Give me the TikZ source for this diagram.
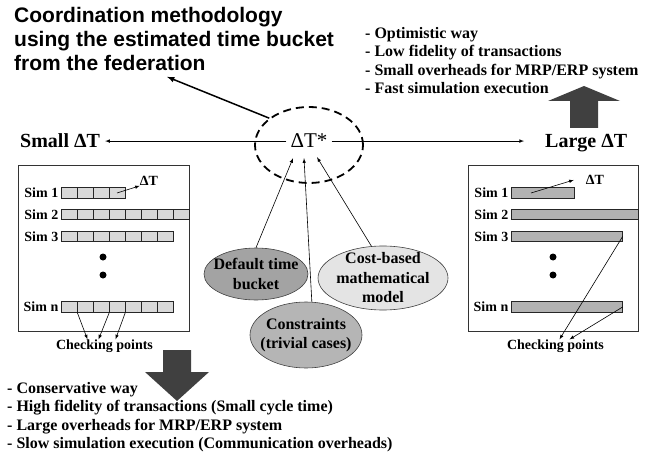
\documentclass[tikz,border=0pt]{standalone}
\usepackage{fontspec}
\setmainfont{Liberation Serif}
\newfontfamily\titlesans{Liberation Sans}
\usetikzlibrary{shapes.geometric}
\definecolor{cellgray}{HTML}{D9D9D9}
\definecolor{bargray}{HTML}{B2B2B2}
\definecolor{blockgray}{HTML}{404040}
\definecolor{dfltgray}{HTML}{A3A3A3}
\definecolor{consgray}{HTML}{B5B5B5}
\definecolor{costgray}{HTML}{E4E4E4}

\begin{document}
\begin{tikzpicture}[x=1pt, y=-1pt,
    every node/.style={inner sep=0pt},
    simlbl/.style={font=\fontsize{14}{16}\selectfont\bfseries},
    side/.style={font=\fontsize{20}{24}\selectfont\bfseries, anchor=base west},
    props/.style={font=\fontsize{16}{18.5}\selectfont\bfseries, align=left, anchor=north west},
    src/.style={draw=black!75, ellipse, line width=0.6pt},
    srctext/.style={font=\fontsize{16}{19.5}\selectfont\bfseries, align=center},
    simbox/.style={draw=black!80, line width=0.8pt, anchor=north west},
    cell/.style={draw=black!85, fill=cellgray, line width=0.6pt, minimum width=16pt, minimum height=10.5pt},
    bar/.style={draw=black!85, fill=bargray, line width=0.6pt, minimum height=10.5pt, anchor=west},
    thinarr/.style={-latex, line width=0.6pt}]
    \useasboundingbox (0,0) rectangle (652,454);

    \node[anchor=north west, align=left, font=\titlesans\fontsize{21}{24}\selectfont\bfseries] (title) at (14,7) {Coordination methodology\\using the estimated time bucket\\from the federation};
    \node[props] (largeprops) at (365,27) {- Optimistic way\\- Low fidelity of transactions\\- Small overheads for MRP/ERP system\\- Fast simulation execution};
    \node[props] (smallprops) at (7,382) {- Conservative way\\- High fidelity of transactions (Small cycle time)\\- Large overheads for MRP/ERP system\\- Slow simulation execution (Communication overheads)};

    \node[ellipse, draw, line width=1.8pt, dash pattern=on 8pt off 5pt, minimum width=108pt, minimum height=76pt] (est) at (309,145) {};
    \node[anchor=base, inner xsep=4pt, font=\fontsize{21}{24}\selectfont] (dts) at (309,148) {ΔT*};
    \node[side] (small) at (20,148) {Small ΔT};
    \node[side] (large) at (545,148) {Large ΔT};
    \draw[thinarr, shorten >=5pt] (dts.west) -- (dts.west -| small.east);
    \draw[thinarr, shorten >=21pt] (dts.east) -- (dts.east -| large.west);
    \draw[-latex, line width=1.5pt] (est.146) -- ([xshift=153pt, yshift=-6pt]title.south west);

    \node[src, fill=dfltgray, minimum width=104pt, minimum height=52pt, label={[srctext]center:Default time\\bucket}] (dflt) at (256,274) {};
    \node[src, fill=costgray, minimum width=130pt, minimum height=64pt, label={[srctext]center:Cost-based\\mathematical\\model}] (cost) at (383,278) {};
    \node[src, fill=consgray, minimum width=112pt, minimum height=66pt, label={[srctext]center:Constraints\\(trivial cases)}] (cons) at (306,335) {};
    \draw[thinarr] (dflt.north) -- ([xshift=-16pt, yshift=-10pt]dts.south);
    \draw[thinarr] (cons.80) -- ([xshift=-5pt, yshift=-10pt]dts.south);
    \draw[thinarr] (cost.110) -- ([xshift=8pt, yshift=-9pt]dts.south);

    \node[simbox, minimum width=171pt, minimum height=166pt] (lbox) at (18,165) {};
    \foreach \r/\n/\y in {1/4/193, 2/8/214.5, 3/7/236.5, n/7/307} {
        \node[simlbl, anchor=east] (ls\r) at (58.5,\y) {Sim \r};
        \foreach \i in {1,...,\n}
            \node[cell] (c\r-\i) at (53+16*\i,\y) {};
    }
    \fill (103,257) circle (3.5pt) (103,275) circle (3.5pt);
    \node[simlbl] (ldt) at (149,181) {ΔT};
    \draw[thinarr] (c1-4.center) -- (ldt.south west);
    \node[simlbl] (lchk) at (104.5,346) {Checking points};
    \draw[thinarr] (cn-1.south east) -- ([xshift=-17pt]lchk.north);
    \draw[thinarr] (cn-3.south east) -- ([xshift=-6pt]lchk.north);
    \draw[thinarr] (cn-4.south east) -- ([xshift=11pt]lchk.north);

    \node[simbox, minimum width=170pt, minimum height=166pt] (rbox) at (468,165) {};
    \foreach \r/\w/\y in {1/63pt/193, 2/127pt/214.5, 3/111pt/236.5, n/111pt/307} {
        \node[simlbl, anchor=east] (rs\r) at (508.5,\y) {Sim \r};
        \node[bar, minimum width=\w] (r\r) at (511,\y) {};
    }
    \fill (553,257) circle (3.5pt) (553,275) circle (3.5pt);
    \node[simlbl] (rdt) at (595,180) {ΔT};
    \draw[thinarr] ([xshift=20pt]r1.west) -- ([xshift=-12pt]rdt.west);
    \node[simlbl] (rchk) at (555.5,346) {Checking points};
    \draw[thinarr] (r3.east) -- ([xshift=4pt]rchk.north);
    \draw[thinarr] (rn.east) -- ([xshift=14pt]rchk.north);

    \fill[blockgray] (163,350) -- (191,350) -- (191,372) -- (209,372) -- (177,401) -- (145,372) -- (163,372) -- cycle;
    \fill[blockgray] (570,128) -- (598,128) -- (598,101) -- (620,101) -- (584,86) -- (548,101) -- (570,101) -- cycle;
\end{tikzpicture}
\end{document}
